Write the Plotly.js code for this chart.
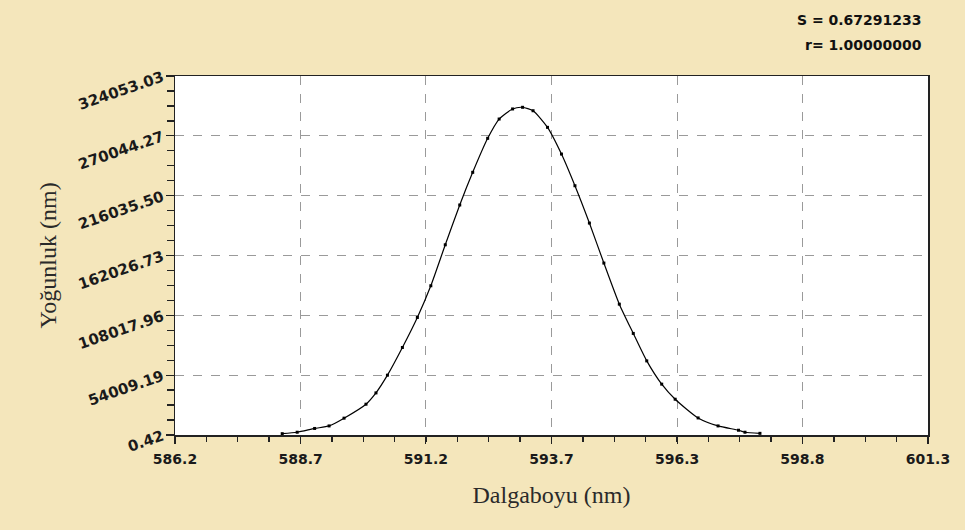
<!DOCTYPE html>
<html>
<head>
<meta charset="utf-8">
<script src="https://cdn.plot.ly/plotly-3.0.1.min.js"></script>
<style>
  html, body { margin: 0; padding: 0; background: #f4e6bb; }
  #chart { width: 965px; height: 530px; }
</style>
</head>
<body>
<div id="chart"></div>
<script>
// Wavelength (nm)
const wavelength = [588.35, 588.65, 589.0, 589.29, 589.59, 590.03, 590.23, 590.46, 590.76, 591.06,
  591.33, 591.62, 591.91, 592.17, 592.47, 592.70, 592.97, 593.17, 593.38, 593.67,
  593.95, 594.22, 594.51, 594.80, 595.11, 595.39, 595.66, 595.96, 596.23, 596.69,
  597.09, 597.50, 597.63, 597.93];
// Intensity values
const intensity = [1200, 2500, 5900, 8200, 15200, 27800, 38000, 54000, 79000, 106100,
  134700, 171700, 207600, 237100, 267800, 285200, 294300, 295800, 292700, 277700,
  253600, 225000, 191300, 155200, 118100, 91700, 66900, 45900, 32300, 15400,
  8200, 4300, 2500, 1500];

const xTickVals = [586.2, 588.72, 591.23, 593.75, 596.27, 598.78, 601.3];
const xTickText = ["586.2", "588.7", "591.2", "593.7", "596.3", "598.8", "601.3"];
const yTickVals = [0.42, 54009.19, 108017.96, 162026.73, 216035.50, 270044.27, 324053.03];
const yTickText = ["0.42", "54009.19", "108017.96", "162026.73", "216035.50", "270044.27", "324053.03"];
const statLines = ["S = 0.67291233", "r= 1.00000000"];

const trace = {
  x: wavelength,
  y: intensity,
  type: 'scatter',
  mode: 'lines+markers',
  line: { color: '#000000', width: 1.2, shape: 'spline', smoothing: 0.6 },
  marker: { color: '#000000', size: 3, symbol: 'square' },
  hoverinfo: 'skip'
};

const xTickFont = { family: 'DejaVu Sans, Arial, sans-serif', size: 14, color: '#1a1a1a', weight: 'bold' };
const yTickFont = { family: 'DejaVu Sans, Arial, sans-serif', size: 15, color: '#1a1a1a', weight: 'bold' };
const titleFont = { family: 'Liberation Serif, Times New Roman, serif', size: 24, color: '#2a2a2a' };

const layout = {
  width: 965,
  height: 530,
  paper_bgcolor: '#f4e6bb',
  plot_bgcolor: '#ffffff',
  margin: { l: 175, r: 37, t: 76, b: 95 },
  showlegend: false,
  xaxis: {
    range: [586.2, 601.3],
    tickmode: 'array',
    tickvals: xTickVals,
    ticktext: xTickText,
    ticks: 'outside',
    ticklen: 7,
    tickwidth: 1.3,
    tickcolor: '#222',
    tickfont: xTickFont,
    ticklabelstandoff: 4,
    showline: true,
    linecolor: '#222',
    linewidth: 1.5,
    mirror: true,
    showgrid: true,
    gridcolor: '#9a9a9a',
    gridwidth: 1,
    griddash: 'dash',
    zeroline: false,
    minor: { ticks: 'outside', ticklen: 5, tickcolor: '#222', tick0: 586.2, dtick: 15.1 / 24, showgrid: false },
    title: { text: 'Dalgaboyu (nm)', font: titleFont, standoff: 20 }
  },
  yaxis: {
    range: [0.42, 324053.03],
    tickmode: 'array',
    tickvals: yTickVals,
    ticktext: yTickText,
    tickangle: -19,
    ticks: 'outside',
    ticklen: 8,
    tickwidth: 1.3,
    tickcolor: '#222',
    tickfont: yTickFont,
    showline: true,
    linecolor: '#222',
    linewidth: 1.5,
    mirror: true,
    showgrid: true,
    gridcolor: '#9a9a9a',
    gridwidth: 1,
    griddash: 'dash',
    zeroline: false,
    minor: { ticks: 'outside', ticklen: 7, tickcolor: '#222', tick0: 0.42, dtick: 54008.7683 / 4, showgrid: false },
    title: { text: 'Yoğunluk (nm)', font: titleFont, standoff: 12 }
  },
  annotations: [
    { xref: 'paper', yref: 'paper', x: 1.0, y: 1.0, yshift: 56, xanchor: 'right', yanchor: 'middle', xshift: -4,
      text: statLines[0], showarrow: false, font: { family: 'DejaVu Sans, Arial, sans-serif', size: 14, color: '#111', weight: 'bold' } },
    { xref: 'paper', yref: 'paper', x: 1.0, y: 1.0, yshift: 31, xanchor: 'right', yanchor: 'middle', xshift: -4,
      text: statLines[1], showarrow: false, font: { family: 'DejaVu Sans, Arial, sans-serif', size: 14, color: '#111', weight: 'bold' } }
  ]
};

Plotly.newPlot('chart', [trace], layout, { displayModeBar: false, staticPlot: true });
</script>
</body>
</html>
